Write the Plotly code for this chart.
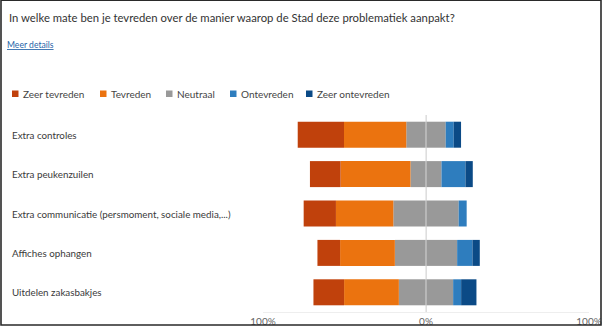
import plotly.graph_objects as go

# Survey answers (% of respondents per measure)
categories = [
    "Extra controles",
    "Extra peukenzuilen",
    "Extra communicatie (persmoment, sociale media,...)",
    "Affiches ophangen",
    "Uitdelen zakasbakjes",
]
zeer_tevreden = [28.4, 18.8, 19.8, 13.9, 18.8]
tevreden = [38.2, 42.9, 35.2, 33.6, 33.6]
neutraal = [24.2, 19.0, 40.1, 38.2, 33.3]
ontevreden = [4.9, 14.7, 4.9, 9.4, 4.9]
zeer_ontevreden = [4.5, 4.5, 0.0, 4.5, 9.4]

series_names = ["Zeer tevreden", "Tevreden", "Neutraal", "Ontevreden", "Zeer ontevreden"]
series_colors = ["#C0410C", "#EB730F", "#999999", "#2E7DBE", "#0B4A86"]

tick_vals = [-100, 0, 100]
tick_text = ["100%", "0%", "100%"]

title_text = "In welke mate ben je tevreden over de manier waarop de Stad deze problematiek aanpakt?"
link_text = "Meer details"

FONT = "Segoe UI, Lato, sans-serif"

# canvas / plot-area geometry (pixels)
W, H = 604, 328
L, R, T, B = 263, 15, 115.4, 16.4
PW, PH = W - L - R, H - T - B


def px(x):
    return (x - L) / PW


def py(y):
    return (H - B - y) / PH


fig = go.Figure()

# diverging stack: neutral is split around 0, satisfied answers go left
neg = lambda vals: [-v for v in vals]
half = [v / 2 for v in neutraal]
stack = [
    ("Neutraal", neg(half), series_colors[2]),
    ("Tevreden", neg(tevreden), series_colors[1]),
    ("Zeer tevreden", neg(zeer_tevreden), series_colors[0]),
    ("Neutraal", half, series_colors[2]),
    ("Ontevreden", ontevreden, series_colors[3]),
    ("Zeer ontevreden", zeer_ontevreden, series_colors[4]),
]
for name, vals, color in stack:
    fig.add_trace(go.Bar(
        y=categories, x=vals, orientation="h", name=name,
        marker=dict(color=color, line=dict(width=0)),
        showlegend=False,
    ))

annotations = []
shapes = []

# title and link
annotations.append(dict(text=title_text, xref="paper", yref="paper", x=px(7), y=py(18),
                        xanchor="left", yanchor="middle", showarrow=False,
                        font=dict(family=FONT, size=11.3, color="#333333")))
annotations.append(dict(text="<u>" + link_text + "</u>", xref="paper", yref="paper",
                        x=px(5), y=py(45.5), xanchor="left", yanchor="middle", showarrow=False,
                        font=dict(family=FONT, size=8.6, color="#2765A8")))

# legend row
legend_x = [12, 100, 166, 230, 306]
for name, color, lx in zip(series_names, series_colors, legend_x):
    shapes.append(dict(type="rect", xref="paper", yref="paper",
                       x0=px(lx), x1=px(lx + 6.5), y0=py(91), y1=py(97.5),
                       fillcolor=color, line=dict(width=0)))
    annotations.append(dict(text=name, xref="paper", yref="paper", x=px(lx + 8.5), y=py(94.3),
                            xanchor="left", yanchor="middle", showarrow=False,
                            font=dict(family=FONT, size=10, color="#444444")))

# category labels, left aligned
for cat in categories:
    annotations.append(dict(text=cat, xref="paper", yref="y", x=px(10), y=cat,
                            xanchor="left", yanchor="middle", showarrow=False,
                            font=dict(family=FONT, size=9.8, color="#3A3A3A")))

# zero reference line drawn over the bars
shapes.append(dict(type="line", xref="x", yref="paper", x0=0, x1=0, y0=0, y1=1,
                   layer="above", line=dict(color="#D6D6D6", width=1)))

# frame around the card
shapes.append(dict(type="rect", xref="paper", yref="paper",
                   x0=px(1), x1=px(601), y0=py(1), y1=py(324.5),
                   line=dict(color="#2A2A2A", width=1.6), fillcolor="rgba(0,0,0,0)"))

fig.update_layout(
    width=W, height=H,
    margin=dict(l=L, r=R, t=T, b=B, autoexpand=False),
    barmode="relative", bargap=0.34,
    paper_bgcolor="white", plot_bgcolor="white",
    showlegend=False,
    annotations=annotations, shapes=shapes,
    font=dict(family=FONT),
)
fig.update_xaxes(range=[-100, 100], tickvals=tick_vals, ticktext=tick_text,
                 showgrid=True, gridcolor="#E6E6E6", gridwidth=1, zeroline=False,
                 showline=True, linecolor="#EEEEEE", linewidth=1,
                 tickfont=dict(family=FONT, size=10, color="#666666"),
                 ticks="", ticklen=0, fixedrange=True, automargin=False)
fig.update_yaxes(categoryorder="array", categoryarray=categories, autorange=False,
                 range=[len(categories) - 0.5, -0.5], showticklabels=False,
                 showgrid=False, zeroline=False, fixedrange=True, automargin=False)

fig.write_html("out.html", config={"displayModeBar": False})
